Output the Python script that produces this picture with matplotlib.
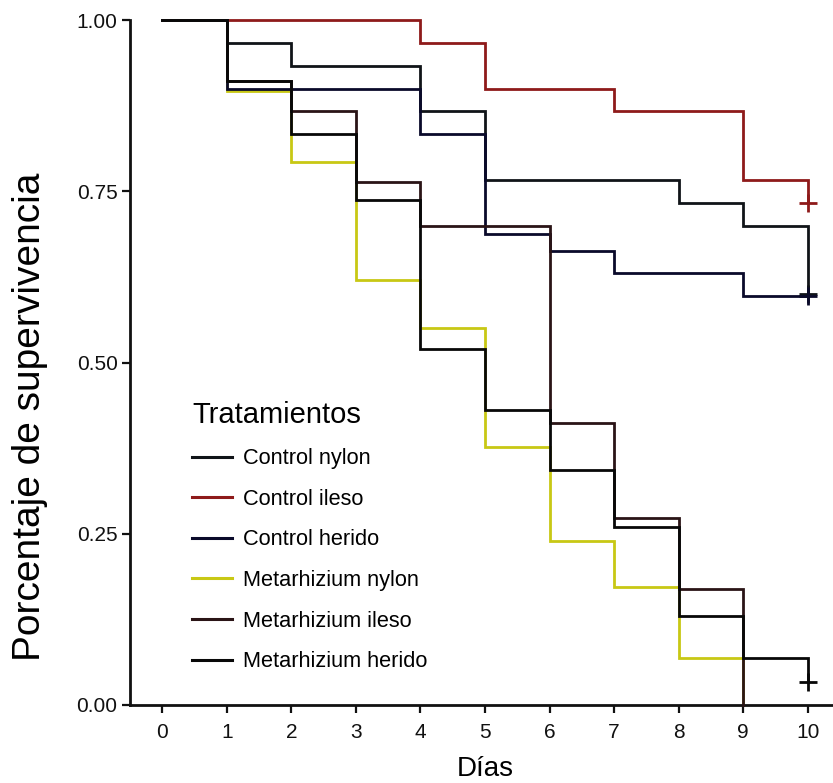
import matplotlib

matplotlib.use("Agg")
import matplotlib.pyplot as plt
from matplotlib.lines import Line2D

plt.rcParams["font.family"] = ["Liberation Sans", "DejaVu Sans"]

days = [0, 1, 2, 3, 4, 5, 6, 7, 8, 9, 10]

# survival estimates (step functions, value from each day on)
control_nylon = [1.0, 0.967, 0.933, 0.933, 0.867, 0.767, 0.767, 0.767, 0.733, 0.700, 0.600]
control_ileso = [1.0, 1.0, 1.0, 1.0, 0.967, 0.900, 0.900, 0.867, 0.867, 0.767, 0.733]
control_herido = [1.0, 0.900, 0.900, 0.900, 0.833, 0.687, 0.663, 0.630, 0.630, 0.597, 0.597]
metarhizium_nylon = [1.0, 0.897, 0.793, 0.620, 0.550, 0.377, 0.240, 0.172, 0.069, 0.0]
metarhizium_ileso = [1.0, 0.911, 0.867, 0.763, 0.700, 0.700, 0.411, 0.273, 0.170, 0.0]
metarhizium_herido = [1.0, 0.911, 0.833, 0.737, 0.520, 0.430, 0.343, 0.260, 0.130, 0.069, 0.033]

labels = ["Control nylon", "Control ileso", "Control herido",
          "Metarhizium nylon", "Metarhizium ileso", "Metarhizium herido"]
series = [control_nylon, control_ileso, control_herido,
          metarhizium_nylon, metarhizium_ileso, metarhizium_herido]
colors = ["#101418", "#8e1a1a", "#0a0a2a", "#c8c814", "#2a1416", "#080808"]
censored = [True, True, True, False, False, True]
zorders = [4, 3, 4, 2, 4, 5]

fig = plt.figure(figsize=(8.33, 7.83), dpi=100)
ax = fig.add_axes([130 / 833, 1 - 705 / 783, 1 - 130 / 833, 685 / 783])

for vals, color, cens, z in zip(series, colors, censored, zorders):
    x = days[:len(vals)]
    ax.step(x, vals, where="post", color=color, lw=2.0, zorder=z, clip_on=False,
            solid_joinstyle="miter")
    if cens:
        ax.plot([x[-1]], [vals[-1]], marker="+", ms=13, mew=2.0, color=color,
                zorder=z + 1, clip_on=False)

ax.set_xlim(-0.5, 10.39)
ax.set_ylim(0, 1.0)
ax.set_xticks(days)
ax.set_yticks([0, 0.25, 0.5, 0.75, 1.0])
ax.set_yticklabels(["0.00", "0.25", "0.50", "0.75", "1.00"])
ax.tick_params(labelsize=15, length=6, width=1.6, colors="#111111", pad=3)
ax.tick_params(axis="x", pad=7)
for side in ["top", "right"]:
    ax.spines[side].set_visible(False)
for side in ["left", "bottom"]:
    ax.spines[side].set_linewidth(2.0)
    ax.spines[side].set_color("#111111")

ax.set_xlabel("Días", fontsize=20)
ax.xaxis.set_label_coords(0.506, -0.075)
ax.set_ylabel("Porcentaje de supervivencia", fontsize=28)
ax.yaxis.set_label_coords(-0.117, 0.42)

handles = [Line2D([0], [0], color=c, lw=2.2) for c in colors]
leg = ax.legend(handles, labels, title="Tratamientos", loc="lower left",
                bbox_to_anchor=(0.076, 0.035), frameon=False, fontsize=15.7,
                title_fontsize=21, handlelength=1.85, labelspacing=0.9,
                handletextpad=0.5, alignment="left", borderaxespad=0)

fig.savefig("out.png", dpi=100)
